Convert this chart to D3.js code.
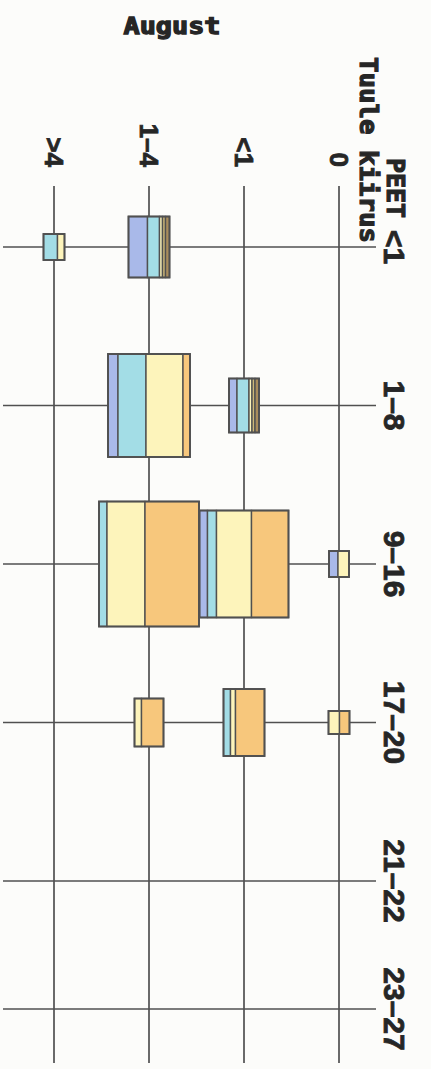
<!DOCTYPE html>
<html><head><meta charset="utf-8">
<script src="https://cdn.jsdelivr.net/npm/d3@7"></script>
<style>html,body{margin:0;padding:0;background:#fcfcfa;} svg{display:block;}</style>
</head><body>
<svg id="c" width="431" height="1069"></svg>
<script>
// ---- data ----
const title = "August";
const peetTitle = "PEET";
const windTitle = "Tuule kiirus";
const peetCats = ["<1", "1–8", "9–16", "17–20", "21–22", "23–27"];
const windCats = ["0", "<1", "1–4", ">4"];
const partKeys = ["p1", "p2", "p3", "p4", "p5", "p6"];
const partColors = ["#a9b9e9", "#a3dde6", "#fdf4bb", "#f7c77c", "#cdb878", "#a98c5c"];
const cellPeet = ["<1", "<1", "1–8", "1–8", "9–16", "9–16", "9–16", "17–20", "17–20", "17–20"];
const cellWind = ["1–4", ">4", "<1", "1–4", "0", "<1", "1–4", "0", "<1", "1–4"];
const cellHeight = [61, 26, 54, 103, 26, 107, 125, 23, 67, 48];
const cellParts = [
  [19, 12, 3, 0, 3, 4],
  [0, 14, 7, 0, 0, 0],
  [8, 12, 3, 0, 3, 4],
  [10, 28, 37, 7, 0, 0],
  [9, 0, 11, 0, 0, 0],
  [8, 9, 35, 37, 0, 0],
  [0, 8, 38, 54, 0, 0],
  [0, 0, 11, 10, 0, 0],
  [0, 7, 5, 29, 0, 0],
  [0, 0, 7, 22, 0, 0]
];

// ---- layout ----
const svg = d3.select("#c");
const ink = "#505050";
const textInk = "#262626";
const x = d3.scalePoint().domain(windCats).range([339, 54]);
const yIdx = d3.scaleLinear().domain([0, 4, 5]).range([247, 881, 1009]);
const y = c => yIdx(peetCats.indexOf(c));
const size = d3.scaleLinear().domain([0, 130]).range([0, 130]);
const color = d3.scaleOrdinal().domain(partKeys).range(partColors);
const gridX = [3, 376], gridY = [186, 1063];

// gridlines
svg.append("g").selectAll("line").data(peetCats).join("line")
  .attr("x1", gridX[0]).attr("x2", gridX[1])
  .attr("y1", d => y(d)).attr("y2", d => y(d))
  .attr("stroke", ink).attr("stroke-width", 1.7);
svg.append("g").selectAll("line").data(windCats).join("line")
  .attr("x1", d => x(d)).attr("x2", d => x(d))
  .attr("y1", gridY[0]).attr("y2", gridY[1])
  .attr("stroke", ink).attr("stroke-width", 1.7);

// cells
const cells = cellPeet.map((p, i) => ({ peet: p, wind: cellWind[i], h: cellHeight[i], parts: cellParts[i] }));
const cg = svg.append("g").selectAll("g").data(cells).join("g");
cg.each(function (d) {
  const g = d3.select(this);
  const total = d3.sum(d.parts);
  const w = size(total), h = size(d.h);
  const left = x(d.wind) - w / 2, top = y(d.peet) - h / 2;
  let acc = 0;
  const segs = d.parts.map((v, k) => { const s = { key: partKeys[k], x0: acc, v: v }; acc += v; return s; }).filter(s => s.v > 0);
  g.selectAll("rect.seg").data(segs).join("rect").attr("class", "seg")
    .attr("x", s => left + size(s.x0)).attr("y", top)
    .attr("width", s => size(s.v)).attr("height", h)
    .attr("fill", s => color(s.key))
    .attr("stroke", ink).attr("stroke-width", 1.4);
  g.append("rect").attr("x", left).attr("y", top).attr("width", w).attr("height", h)
    .attr("fill", "none").attr("stroke", ink).attr("stroke-width", 1.9);
});

// title
svg.append("text").text(title)
  .attr("x", 172).attr("y", 34).attr("text-anchor", "middle")
  .attr("font-family", "DejaVu Sans Mono").attr("font-weight", "bold").attr("font-size", 23)
  .attr("textLength", 97).attr("lengthAdjust", "spacingAndGlyphs")
  .attr("fill", textInk).attr("stroke", textInk).attr("stroke-width", 1.3);

// axis titles (rotated)
svg.append("text").text(windTitle)
  .attr("transform", "translate(368,57) rotate(90)")
  .attr("dominant-baseline", "central")
  .attr("font-family", "DejaVu Sans Mono").attr("font-weight", "bold").attr("font-size", 24)
  .attr("textLength", 186).attr("lengthAdjust", "spacingAndGlyphs")
  .attr("fill", textInk).attr("stroke", textInk).attr("stroke-width", 1.1);
svg.append("text").text(peetTitle)
  .attr("transform", "translate(395,158) rotate(90)")
  .attr("dominant-baseline", "central")
  .attr("font-family", "DejaVu Sans Mono").attr("font-weight", "bold").attr("font-size", 24)
  .attr("textLength", 60).attr("lengthAdjust", "spacingAndGlyphs")
  .attr("fill", textInk).attr("stroke", textInk).attr("stroke-width", 1.1);

// wind category labels
svg.append("g").selectAll("text").data(windCats).join("text").text(d => d)
  .attr("transform", d => `translate(${x(d)},167) rotate(90)`)
  .attr("text-anchor", "end").attr("dominant-baseline", "central")
  .attr("font-family", "Liberation Sans").attr("font-weight", "bold").attr("font-size", 26)
  .attr("fill", textInk).attr("stroke", textInk).attr("stroke-width", 0.8);

// peet category labels
svg.append("g").selectAll("text").data(peetCats).join("text").text(d => d)
  .attr("transform", d => `translate(394,${y(d)}) rotate(90)`)
  .attr("text-anchor", "middle").attr("dominant-baseline", "central")
  .attr("font-family", "Liberation Sans").attr("font-weight", "bold").attr("font-size", 30)
  .attr("fill", textInk).attr("stroke", textInk).attr("stroke-width", 0.8);
</script>
</body></html>
